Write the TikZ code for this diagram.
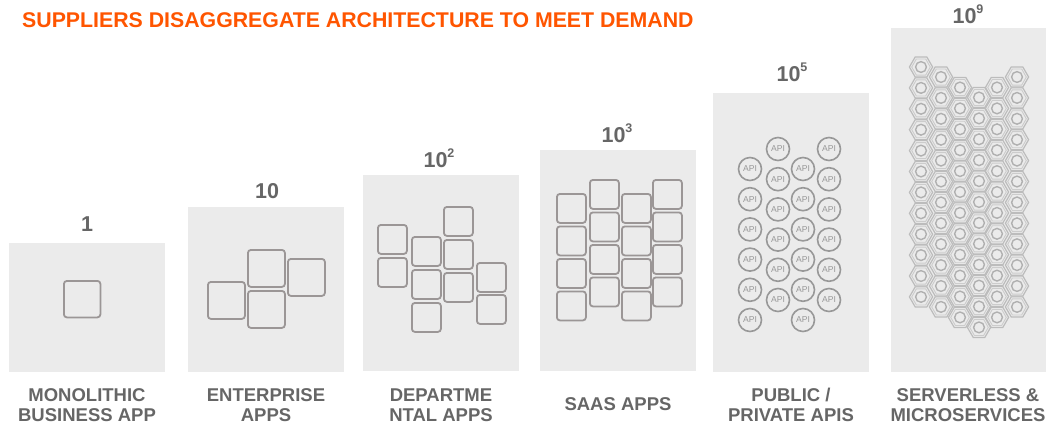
\documentclass[tikz,border=0pt]{standalone}
\usepackage{fontspec}
\setmainfont{Liberation Sans}
\definecolor{titlec}{RGB}{255,85,0}
\definecolor{txt}{RGB}{102,102,102}
\definecolor{panelc}{RGB}{235,235,235}
\definecolor{sqc}{RGB}{155,150,150}
\definecolor{apic}{RGB}{152,152,152}
\definecolor{hexc}{RGB}{188,188,188}
\definecolor{hexin}{RGB}{204,204,204}
\definecolor{hexcirc}{RGB}{176,176,176}
\tikzset{
  panelbox/.style={fill=panelc, draw=none},
  appbox/.style={draw=sqc, line width=1.8pt, rounded corners=3pt, minimum width=#1, minimum height=#1, inner sep=0pt, anchor=north west},
  apinode/.style={circle, draw=apic, line width=1.6pt, minimum size=23pt, inner sep=0pt, text=apic, font=\fontsize{8.6}{8.6}\selectfont},
  lbl/.style={text=txt, font=\fontsize{18.5}{20}\selectfont\bfseries, align=center},
  num/.style={text=txt, font=\fontsize{21.5}{21.5}\selectfont\bfseries, anchor=base, inner sep=0pt},
}
\newcommand{\expo}[1]{\raisebox{10pt}{\fontsize{12.5}{12.5}\selectfont #1}}
\begin{document}
\begin{tikzpicture}[x=1pt,y=-1pt]
\useasboundingbox (0,0) rectangle (1048,424);
% title
\node[anchor=base west, inner sep=0pt, text=titlec, font=\fontsize{21.3}{21.3}\selectfont\bfseries] (title) at (22,27) {SUPPLIERS DISAGGREGATE ARCHITECTURE TO MEET DEMAND};
% panels
\fill[panelbox] (9,243) rectangle (165,372);
\fill[panelbox] (188,207) rectangle (344,372);
\fill[panelbox] (363,175) rectangle (519,371);
\fill[panelbox] (540,150) rectangle (696,371);
\fill[panelbox] (713,93) rectangle (869,372);
\fill[panelbox] (891,28) rectangle (1046,372);
% numbers
\node[num] (n1) at (87,231) {1};
\node[num] (n2) at (267,198) {10};
\node[num] (n3) at (439,167.5) {10\expo{2}};
\node[num] (n4) at (617,142) {10\expo{3}};
\node[num] (n5) at (792,81) {10\expo{5}};
\node[num] (n6) at (968,23) {10\expo{9}};
% labels
\node[lbl] (l1) at (87,405) {MONOLITHIC\\BUSINESS APP};
\node[lbl] (l2) at (266,405) {ENTERPRISE\\APPS};
\node[lbl] (l3) at (441,405) {DEPARTME\\NTAL APPS};
\node[lbl] (l4) at (618,404) {SAAS APPS};
\node[lbl] (l5) at (791,405) {PUBLIC /\\PRIVATE APIS};
\node[lbl] (l6) at (968,405) {SERVERLESS \&\\MICROSERVICES};
% panel 1
\node[appbox=36.5pt] (m1) at (63,280) {};
% panel 2
\node[appbox=37pt] (e1) at (207,281) {};
\node[appbox=37pt] (e2) at (247,249) {};
\node[appbox=37pt] (e3) at (287,258) {};
\node[appbox=37pt] (e4) at (247,290) {};
% panel 3
\foreach \px/\py [count=\k] in {377/224,377/257,411/236,411/269,411/302,443/206,443/239,443/272,476/262,476/294}
  \node[appbox=29pt] (d\k) at (\px,\py) {};
% panel 4
\foreach \px/\py [count=\c] in {556/193,589/179,621/193,652/179}
  \foreach \r in {0,...,3}
    \node[appbox=29pt] (s\c-\r) at (\px,\py+32.5*\r) {};
% panel 5
\foreach \px/\py [count=\c] in {750/169,778/149,803/169,829/149}
  \foreach \r in {0,...,5}
    \node[apinode] (a\c-\r) at (\px,\py+30.2*\r) {API};
% panel 6
\foreach \hx/\hy in {921/67,941/77,960/87.5,979/97.5,997/87.5,1017/77}
  \foreach \i in {0,...,11}{
    \pgfmathsetmacro{\yy}{\hy+20.9*\i}
    \draw[hexc, line width=1.2pt] (\hx,\yy) +(0:11.6) -- +(60:11.6) -- +(120:11.6) -- +(180:11.6) -- +(240:11.6) -- +(300:11.6) -- cycle;
    \draw[hexin, line width=0.9pt] (\hx,\yy) +(0:9.3) -- +(60:9.3) -- +(120:9.3) -- +(180:9.3) -- +(240:9.3) -- +(300:9.3) -- cycle;
    \draw[hexcirc, line width=1.4pt] (\hx,\yy) circle (5.4);
  }
\end{tikzpicture}
\end{document}
